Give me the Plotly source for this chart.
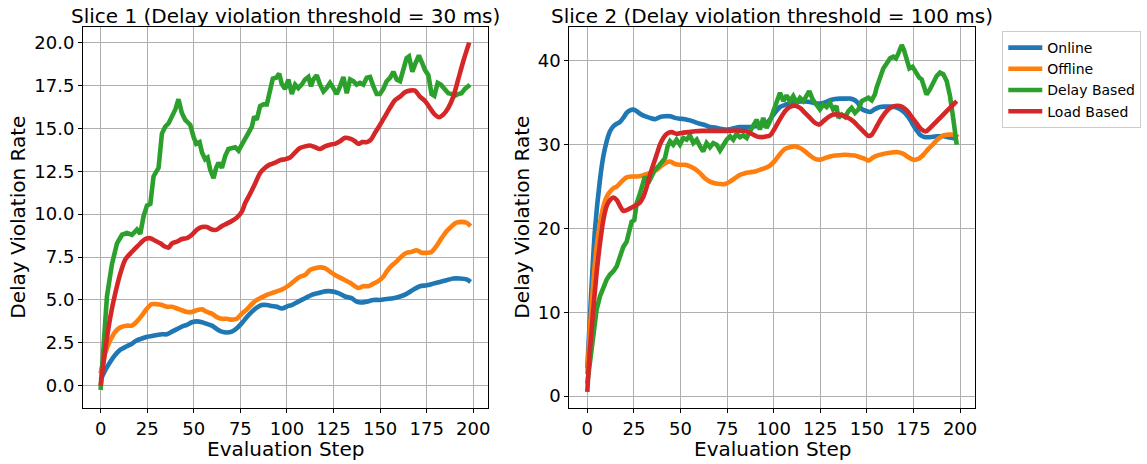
import plotly.graph_objects as go

# ---------------- Slice 1 (threshold = 30 ms) ----------------
s1_online_x = [0, 2.5, 5.2, 7.9, 10.6, 14.1, 16.8, 19.5, 22.2, 24.9, 27.5, 30.2, 32.9, 35.6, 38.3, 41, 43.6, 46.3, 49, 51.7,
               54.4, 57, 59.7, 62.4, 65, 67.8, 70.4, 73.1, 75.8, 78.5, 81.1, 83.8, 86.5, 89.2, 91.9, 94.6, 97.2, 100.8, 102.6,
               106.1, 109.7, 113.3, 116.9, 120.4, 124, 127.6, 131.2, 134.7, 137.4, 139.8, 142.8, 146.4, 149.9, 153.5, 157.1,
               160.7, 164.2, 167.8, 171.4, 175, 178.5, 182.1, 185.7, 189.3, 192.8, 196.4, 198.6]
s1_online_y = [0.33, 0.9, 1.4, 1.8, 2.1, 2.3, 2.45, 2.65, 2.75, 2.85, 2.9, 2.95, 3.0, 3.0, 3.15, 3.3, 3.45, 3.55, 3.7, 3.75,
               3.7, 3.6, 3.5, 3.3, 3.15, 3.1, 3.15, 3.35, 3.65, 4.0, 4.3, 4.55, 4.7, 4.7, 4.65, 4.6, 4.5, 4.65, 4.7,
               4.9, 5.1, 5.3, 5.4, 5.5, 5.5, 5.4, 5.2, 5.1, 4.9, 4.85, 4.9, 5.0, 5.0, 5.05, 5.1,
               5.2, 5.35, 5.6, 5.8, 5.85, 5.95, 6.05, 6.15, 6.25, 6.25, 6.2, 6.05]

s1_offline_x = [0, 2.5, 5.2, 7.9, 10.6, 14.1, 16.8, 19.5, 22.2, 24.9, 27.5, 30.2, 32.9, 35.6, 38.3, 41, 43.6, 46.3, 49, 51.7,
                54.4, 57, 59.7, 62.4, 65, 67.8, 70.4, 73.1, 75.8, 78.5, 81.1, 83.8, 86.5, 89.2, 91.9, 94.6, 97.2, 101.7,
                104.4, 107, 109.7, 112.4, 115.1, 117.8, 120.4, 123.1, 125.8, 128.5, 131.2, 133.9, 136.5, 138.3, 141, 143.7,
                146.4, 149, 151.7, 153.5, 156.2, 158.9, 161.6, 164.2, 166.9, 169.6, 172.3, 175, 177.6, 180.3, 183, 185.7,
                188.4, 191, 193.7, 196.4, 198.6]
s1_offline_y = [0.72, 1.9, 2.65, 3.15, 3.4, 3.5, 3.5, 3.75, 4.1, 4.5, 4.75, 4.75, 4.7, 4.6, 4.6, 4.5, 4.4, 4.3, 4.3, 4.4,
                4.45, 4.3, 4.2, 4.0, 3.9, 3.9, 3.85, 3.9, 4.2, 4.45, 4.75, 5.0, 5.15, 5.3, 5.4, 5.5, 5.6, 5.9,
                6.15, 6.35, 6.45, 6.75, 6.85, 6.9, 6.85, 6.65, 6.45, 6.3, 6.15, 6.0, 5.8, 5.7, 5.8, 5.8,
                5.95, 6.1, 6.35, 6.65, 7.0, 7.25, 7.55, 7.75, 7.8, 7.9, 7.75, 7.75, 7.8, 8.15, 8.6, 9.0,
                9.3, 9.5, 9.55, 9.5, 9.3]

s1_delay_x = [0, 1.7, 3.4, 6.1, 8.8, 11.5, 14.1, 16.8, 19.5, 21.3, 23.1, 24.9, 26.7, 28.4, 31.1, 32.9, 34.7, 36.5, 38.3, 40.1,
              41.8, 43.6, 45.4, 48.1, 49.9, 51.3, 53.1, 54.4, 56.1, 57.4, 58.8, 60.6, 62, 63.3, 65.1, 66.9, 68.6, 70.4, 72.2,
              74, 75.8, 77.6, 79.4, 81.2, 82.4, 83.8, 85.6, 87.4, 89.2, 91, 92.4, 94.2, 95.8, 97.2, 99, 100.8, 102.6, 104.4,
              106.1, 107.9, 109.7, 111.5, 112.9, 114.2, 116, 117.8, 119.6, 121.3, 123.1, 124.9, 126.7, 128.5, 130.3, 132.1,
              133.9, 135.6, 137.4, 139.2, 141, 142.8, 144.6, 146.4, 148.2, 149.9, 151.7, 153.5, 155.3, 157.1, 158.9, 160.7,
              162.4, 164.2, 165.5, 167.3, 169, 170.8, 172.6, 174.1, 175.9, 177.6, 179.1, 180.9, 182.6, 184.4, 186.6, 188.4,
              190.2, 192, 193.7, 195.5, 198.2]
s1_delay_y = [-0.25, 2.8, 5.2, 7.1, 8.3, 8.8, 8.9, 8.8, 9.1, 8.85, 9.9, 10.5, 10.6, 12.2, 12.7, 14.7, 15.1, 15.3, 15.7, 16.1,
              16.7, 15.9, 15.5, 15.2, 14.5, 14.1, 14.2, 13.6, 13.2, 13.3, 12.6, 12.1, 12.7, 13.0, 12.7, 13.4, 13.8, 13.85, 13.9,
              13.7, 14.05, 14.5, 14.8, 15.1, 15.7, 15.5, 16.3, 16.4, 16.4, 17.3, 17.9, 17.95, 18.2, 17.6, 17.3, 17.85, 17.0, 17.55,
              17.35, 17.55, 17.85, 18.0, 17.45, 17.85, 18.1, 17.55, 17.15, 17.35, 17.65, 17.35, 17.0, 17.45, 18.0, 17.05,
              17.85, 17.75, 17.55, 17.65, 17.55, 17.95, 18.0, 17.45, 17.0, 17.0, 17.3, 17.75, 17.95, 18.3, 17.85, 17.75,
              18.5, 19.1, 19.2, 18.3, 18.8, 19.25, 18.8, 18.4, 18.1, 17.0, 16.9, 17.65, 17.55, 17.3, 17.05, 17.0,
              16.9, 17.0, 17.05, 17.3, 17.55]

s1_load_x = [0, 2.5, 5.2, 7.9, 10.6, 13.2, 15.9, 18.6, 21.3, 24, 26.6, 29.3, 32, 34.7, 36.5, 38.3, 41, 43.6, 46.3, 49,
             51.7, 54.4, 57, 59.7, 62.4, 65, 67.8, 70.4, 73.1, 75.8, 77.6, 80.3, 83, 85.6, 88.3, 91, 93.7, 96.4, 99,
             101.7, 104.4, 107, 109.7, 112.4, 115.1, 117.8, 120.4, 123.1, 125.8, 128.5, 131.2, 133.9, 136.5, 138.3, 140.5,
             142.8, 145.1, 147.3, 149.9, 152.6, 155.3, 158, 160.7, 163.3, 166, 168.7, 171.4, 174.1, 176.7, 179.4, 181.6,
             183.9, 186.6, 189.3, 191.9, 194.6, 197.8]
s1_load_y = [0.0, 2.1, 4.0, 5.4, 6.55, 7.35, 7.7, 8.0, 8.3, 8.55, 8.6, 8.45, 8.3, 8.1, 8.05, 8.3, 8.4, 8.55, 8.6, 8.8,
             9.1, 9.25, 9.25, 9.1, 9.1, 9.3, 9.45, 9.6, 9.8, 10.15, 10.65, 11.2, 11.8, 12.4, 12.7, 12.9, 13.0, 13.15, 13.2,
             13.3, 13.6, 13.85, 13.95, 14.0, 13.9, 13.8, 13.95, 14.05, 14.1, 14.25, 14.45, 14.4, 14.25, 14.1, 14.2,
             14.2, 14.35, 14.75, 15.2, 15.7, 16.2, 16.65, 16.85, 17.1, 17.2, 17.2, 16.85, 16.6, 16.2, 15.8, 15.65,
             15.8, 16.2, 16.85, 17.85, 18.9, 20.0]

# ---------------- Slice 2 (threshold = 100 ms) ----------------
s2_online_x = [0, 2, 4.1, 6.8, 8.6, 10.4, 12.2, 14, 15.8, 17.5, 19.3, 21.1, 22.9, 24.7, 26.5, 28.3, 30.9, 33.6, 36.3, 39,
               41.7, 44.4, 47.1, 49.7, 52.4, 55.1, 57.8, 60.5, 63.1, 65.8, 68.5, 71.2, 73.9, 76.6, 79.2, 81.9, 84.6, 87.3,
               90, 92.6, 95.3, 98, 100.7, 103.4, 106.1, 108.7, 111.4, 114.1, 116.8, 119.5, 122.2, 124.8, 127.5, 130.2,
               132.9, 135.6, 138.3, 141, 143.6, 145.4, 147.2, 149.9, 151.7, 154.3, 157, 159.7, 162.4, 165.1, 167.7, 170.4,
               173.1, 175.8, 178.5, 181.2, 183.9, 187.4, 191, 194.6, 198.2]
s2_online_y = [3.3, 11.9, 19.8, 25.8, 28.6, 30.4, 31.6, 32.2, 32.5, 32.7, 33.2, 33.8, 34.1, 34.2, 34.0, 33.7, 33.4, 33.2, 33.05, 33.3,
               33.4, 33.4, 33.2, 33.1, 33.05, 32.9, 32.7, 32.5, 32.35, 32.1, 32.05, 31.9, 31.8, 31.85, 32.0, 32.1, 32.1, 32.1,
               32.2, 32.2, 32.4, 33.0, 33.85, 34.5, 34.75, 34.95, 35.05, 35.15, 35.15, 35.1, 34.95, 34.9, 35.05, 35.3,
               35.45, 35.5, 35.5, 35.5, 35.3, 34.9, 34.25, 34.0, 33.9, 34.25, 34.5, 34.55, 34.55, 34.5, 34.25, 33.8,
               33.0, 32.0, 31.2, 30.9, 30.9, 31.0, 31.0, 30.85, 30.7]

s2_offline_x = [0, 1.4, 3.2, 5, 6.8, 8.6, 10.4, 12.2, 14, 15.8, 18.4, 21.1, 23.8, 26.5, 29.2, 31.9, 34.5, 37.2, 39.9, 42.6,
                44.4, 47, 49.7, 52.4, 55.1, 57.8, 60.5, 63.1, 65.8, 68.5, 71.2, 73.9, 76.6, 79.2, 81.9, 84.6, 87.3, 90,
                92.6, 95.3, 98, 100.7, 103.4, 106.1, 108.7, 111.4, 114.1, 116.8, 119.5, 122.2, 124.8, 127.5, 130.2, 132.9,
                135.6, 138.3, 141, 143.6, 146.3, 149, 150.8, 153.5, 156.2, 158.8, 161.5, 164.2, 166.9, 169.6, 172.3, 175,
                177.6, 180.3, 183, 185.7, 188.3, 191, 193.7, 196.4, 199]
s2_offline_y = [2.6, 7.9, 13.5, 17.8, 20.6, 22.6, 23.8, 24.4, 24.8, 25.0, 25.6, 26.1, 26.2, 26.2, 26.3, 26.5, 26.7, 27.0, 27.5, 27.9,
                28.0, 27.7, 27.6, 27.6, 27.4, 27.1, 26.6, 26.0, 25.6, 25.4, 25.3, 25.3, 25.6, 26.0, 26.4, 26.6, 26.7, 26.8,
                27.0, 27.2, 27.5, 28.1, 28.9, 29.5, 29.7, 29.8, 29.6, 29.2, 28.7, 28.3, 28.2, 28.4, 28.6, 28.7,
                28.75, 28.8, 28.75, 28.7, 28.5, 28.3, 28.1, 28.5, 28.75, 28.9, 29.0, 29.1, 29.1, 28.9, 28.5, 28.2,
                28.3, 28.8, 29.5, 30.1, 30.7, 31.1, 31.2, 31.2, 30.9]

s2_delay_x = [0, 1.4, 3.2, 5, 6.8, 8.6, 10.4, 12.2, 14, 15.8, 17.5, 19.3, 21.1, 22.4, 23.8, 25.2, 26.5, 28.3, 30.1, 30.9,
              32.7, 34.5, 36.3, 38.1, 39.9, 41.7, 43.1, 44.4, 46.1, 47.9, 49.7, 51.5, 53.3, 55.1, 56.9, 58.7, 60.5, 62.2,
              64, 65.8, 67.6, 69.4, 71.2, 73, 74.8, 76.6, 78.3, 80.1, 81.9, 83.7, 85.5, 87.3, 89.1, 90.9, 92.6, 94.4,
              96.2, 98, 99.8, 101.6, 103.4, 105.2, 106.9, 108.7, 110.5, 112.3, 114.1, 115.9, 117.6, 119.1, 120.9, 123,
              124.8, 126.6, 128.4, 130.2, 131.9, 133.7, 134.7, 136.5, 138.3, 140.1, 141.8, 143.6, 145.4, 147.2, 149,
              150.8, 152.6, 154.3, 155.2, 157, 158.8, 160.6, 162.4, 164.2, 165.6, 166.9, 168.7, 169.9, 171.4, 172.8,
              174.5, 176.3, 178.1, 179.4, 180.6, 182, 183.8, 185.6, 187.4, 189.2, 191, 192.8, 194.6, 196.4, 198.2]
s2_delay_y = [1.5, 4.3, 7.9, 10.3, 11.9, 13.1, 13.9, 14.5, 14.9, 15.5, 16.6, 17.8, 18.4, 19.8, 20.8, 21.0, 23.0, 24.2, 25.6, 26.2,
              25.4, 26.2, 27.0, 27.4, 28.0, 28.4, 29.8, 30.4, 30.0, 30.6, 30.0, 30.8, 30.6, 31.1, 30.2, 30.6, 29.8, 29.2,
              30.2, 29.7, 30.2, 30.0, 29.3, 30.0, 30.6, 31.0, 30.6, 31.3, 30.9, 31.1, 30.8, 31.6, 32.2, 33.0, 31.8, 33.2,
              32.0, 32.8, 34.0, 35.2, 36.2, 35.2, 35.9, 35.2, 35.8, 35.0, 35.6, 35.2, 36.0, 36.4, 35.4, 34.8,
              34.2, 34.8, 34.5, 35.0, 34.2, 34.6, 33.2, 33.6, 33.3, 34.0, 34.4, 33.8, 34.2, 35.2, 35.45,
              35.6, 35.3, 36.0, 36.8, 38.2, 39.1, 39.7, 40.3, 40.5, 40.3, 40.9, 41.9, 41.3, 40.1, 39.1,
              39.3, 38.5, 38.0, 37.8, 36.8, 36.0, 36.6, 37.4, 38.2, 38.6, 38.4, 37.6, 35.8, 33.0, 30.0]

s2_load_x = [0, 1.4, 3.2, 5, 6.8, 8.6, 10.4, 12.2, 14, 15.8, 17.5, 19.3, 21.1, 22.9, 25.6, 28.3, 30.1, 31.9, 33.6, 35.4,
             37.2, 39, 40.8, 42.6, 45.3, 47.9, 50.6, 54.2, 57.8, 61.4, 64.9, 68.5, 72.1, 75.6, 79.2, 82.8, 85.4, 88.1,
             90.8, 93.5, 96.2, 98, 100.7, 103.4, 106.1, 108.7, 111.4, 114.1, 116.8, 119.5, 122.2, 124.5, 126.6, 129.3,
             132, 134.7, 137.4, 140.1, 142.7, 145.4, 148.1, 150.8, 152.6, 155.3, 157.9, 160.6, 163.3, 166, 168.7, 171.4,
             174.1, 176.8, 179.4, 181.7, 183.9, 186.6, 189.3, 191.9, 194.6, 198.2]
s2_load_y = [0.5, 5.5, 10.3, 14.7, 18.2, 21.0, 22.7, 23.4, 23.7, 23.4, 22.7, 22.1, 22.2, 22.4, 22.7, 23.1, 23.8, 25.0, 26.4, 27.6,
             28.8, 30.0, 30.8, 31.3, 31.5, 31.3, 31.4, 31.5, 31.6, 31.65, 31.65, 31.65, 31.65, 31.65, 31.7, 31.65, 31.6, 31.3,
             31.0, 30.9, 31.0, 31.1, 32.0, 33.05, 34.0, 34.5, 34.65, 34.4, 33.8, 33.2, 32.6, 32.4, 32.8, 33.3,
             33.6, 33.6, 33.45, 33.2, 32.8, 32.2, 31.6, 31.05, 31.2, 32.2, 33.2, 34.0, 34.5, 34.65, 34.55, 34.1,
             33.3, 32.5, 31.8, 31.6, 32.0, 32.6, 33.2, 33.8, 34.4, 35.2]

series_names = ["Online", "Offline", "Delay Based", "Load Based"]
series_colors = ["#1f77b4", "#ff7f0e", "#2ca02c", "#d62728"]
x_ticks = [0, 25, 50, 75, 100, 125, 150, 175, 200]
s1_y_ticks = [0, 2.5, 5, 7.5, 10, 12.5, 15, 17.5, 20]
s2_y_ticks = [0, 10, 20, 30, 40]
titles = ["Slice 1 (Delay violation threshold = 30 ms)", "Slice 2 (Delay violation threshold = 100 ms)"]
x_label = "Evaluation Step"
y_label = "Delay Violation Rate"

FONT = "DejaVu Sans"
W, H = 1147, 464
ML, MR, MT, MB = 83, 172, 27, 56
PW = W - ML - MR
PH = H - MT - MB


def px_x(p):
    return (p - ML) / PW


def px_y(p):
    return (H - MB - p) / PH


fig = go.Figure()

slice1 = [(s1_online_x, s1_online_y), (s1_offline_x, s1_offline_y), (s1_delay_x, s1_delay_y), (s1_load_x, s1_load_y)]
slice2 = [(s2_online_x, s2_online_y), (s2_offline_x, s2_offline_y), (s2_delay_x, s2_delay_y), (s2_load_x, s2_load_y)]

for i, (xs, ys) in enumerate(slice1):
    fig.add_trace(go.Scatter(
        x=xs, y=ys, mode="lines", name=series_names[i], legendgroup=series_names[i], showlegend=False,
        line=dict(color=series_colors[i], width=4.6,
                  shape="linear" if i == 2 else "spline", smoothing=0.8 if i != 2 else None),
        xaxis="x", yaxis="y"))
for i, (xs, ys) in enumerate(slice2):
    fig.add_trace(go.Scatter(
        x=xs, y=ys, mode="lines", name=series_names[i], legendgroup=series_names[i], showlegend=True,
        line=dict(color=series_colors[i], width=4.6,
                  shape="linear" if i == 2 else "spline", smoothing=0.8 if i != 2 else None),
        xaxis="x2", yaxis="y2"))

axis_common = dict(
    showgrid=True, gridcolor="#b0b0b0", gridwidth=1,
    showline=True, linecolor="black", linewidth=1, mirror=True,
    ticks="outside", ticklen=4, tickcolor="black", tickwidth=1,
    tickfont=dict(family=FONT, size=18, color="black"),
    zeroline=False, automargin=False,
)

left_end = px_x(488)
right_start = px_x(569.3)

fig.update_layout(
    width=W, height=H,
    margin=dict(l=ML, r=MR, t=MT, b=MB, pad=0, autoexpand=False),
    paper_bgcolor="white", plot_bgcolor="white",
    font=dict(family=FONT, color="black"),
    xaxis=dict(domain=[0, left_end], range=[-9.45, 207.9], tickvals=x_ticks, anchor="y", **axis_common),
    yaxis=dict(domain=[0, 1], range=[-1.30, 20.91], tickvals=s1_y_ticks, tickformat=".1f", anchor="x", **axis_common),
    xaxis2=dict(domain=[right_start, 1], range=[-9.65, 208.0], tickvals=x_ticks, anchor="y2", **axis_common),
    yaxis2=dict(domain=[0, 1], range=[-1.43, 44.05], tickvals=s2_y_ticks, anchor="x2", **axis_common),
    legend=dict(
        x=px_x(1002.3), y=px_y(31), xanchor="left", yanchor="top",
        bgcolor="white", bordercolor="#cccccc", borderwidth=1,
        font=dict(family=FONT, size=14, color="black"),
        tracegroupgap=0, itemwidth=34,
    ),
    showlegend=True,
)

annotations = []
for k, (x0, x1) in enumerate([(83, 488), (569.3, 975)]):
    cx = px_x((x0 + x1) / 2)
    annotations.append(dict(text=titles[k], x=cx, y=px_y(30), xref="paper", yref="paper",
                            xanchor="center", yanchor="bottom", showarrow=False,
                            font=dict(family=FONT, size=20, color="black")))
    annotations.append(dict(text=x_label, x=cx, y=px_y(449), xref="paper", yref="paper",
                            xanchor="center", yanchor="middle", showarrow=False,
                            font=dict(family=FONT, size=20, color="black")))
annotations.append(dict(text=y_label, x=px_x(18), y=px_y(217.7), xref="paper", yref="paper",
                        xanchor="center", yanchor="middle", showarrow=False, textangle=-90,
                        font=dict(family=FONT, size=20, color="black")))
annotations.append(dict(text=y_label, x=px_x(522), y=px_y(217.7), xref="paper", yref="paper",
                        xanchor="center", yanchor="middle", showarrow=False, textangle=-90,
                        font=dict(family=FONT, size=20, color="black")))
fig.update_layout(annotations=annotations)

fig.write_html("out.html", config={"displayModeBar": False})

# remove the browser's default 8px body margin so the figure sits at the page origin
with open("out.html", "r", encoding="utf-8") as fh:
    html = fh.read()
html = html.replace("<head>", "<head><style>html,body{margin:0;padding:0;}</style>", 1)
with open("out.html", "w", encoding="utf-8") as fh:
    fh.write(html)
